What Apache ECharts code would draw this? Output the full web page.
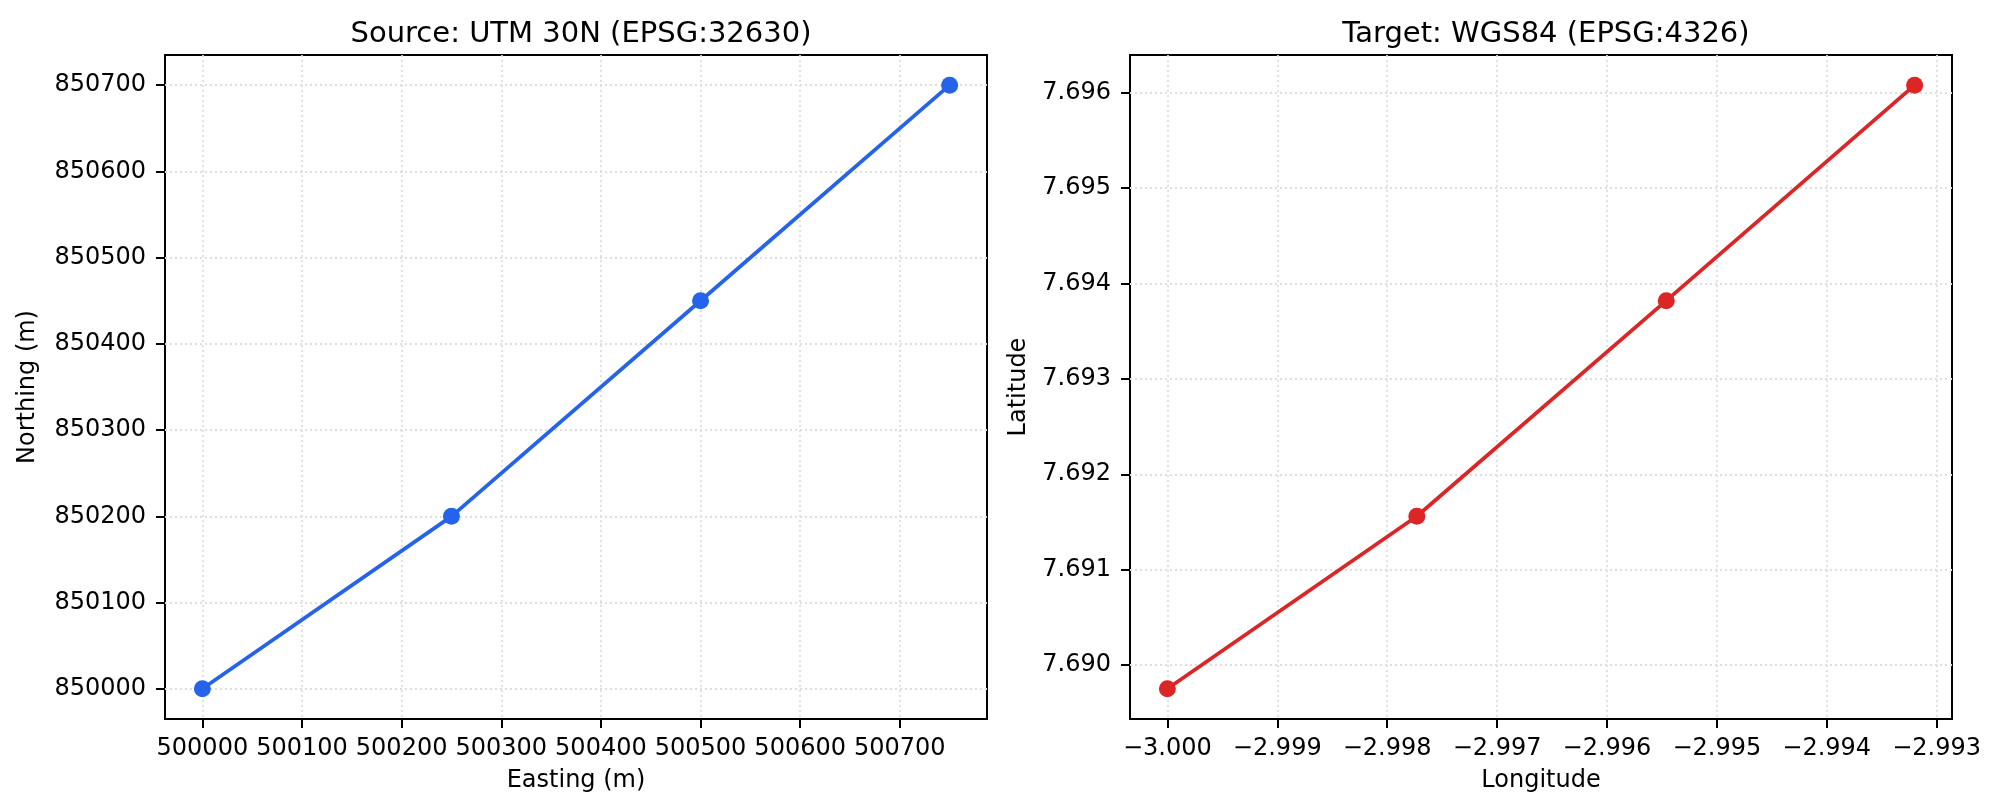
<!DOCTYPE html>
<html>
<head>
<meta charset="utf-8">
<script src="https://cdn.jsdelivr.net/npm/echarts@6/dist/echarts.min.js"></script>
<style>
html,body{margin:0;padding:0;background:#fff;}
#J_Main{width:2000px;height:812px;}
</style>
</head>
<body>
<div id="J_Main"></div>
<script>
// source points, UTM 30N
var easting=[500000,500250,500500,500750];
var northing=[850000,850200,850450,850700];
// transformed points, WGS84
var longitude=[-3.000,-2.99773,-2.99546,-2.99320];
var latitude=[7.68975,7.69156,7.69382,7.69608];

var eastTicks=[500000,500100,500200,500300,500400,500500,500600,500700];
var northTicks=[850000,850100,850200,850300,850400,850500,850600,850700];
var lonTicks=[-3.000,-2.999,-2.998,-2.997,-2.996,-2.995,-2.994,-2.993];
var latTicks=[7.690,7.691,7.692,7.693,7.694,7.695,7.696];

var FONT="DejaVu Sans";

function pairs(xs,ys){
    return xs.map(function(x,i){return [x,ys[i]]});
}
// matplotlib style 5% margins
function padMin(v){return v.min-0.05*(v.max-v.min)}
function padMax(v){return v.max+0.05*(v.max-v.min)}

function axis(gridIndex,name,ticks,fmt,gap,labelMargin){
    return {
        type:'value',
        gridIndex:gridIndex,
        min:padMin,
        max:padMax,
        name:name,
        nameLocation:'middle',
        nameGap:gap,
        nameTextStyle:{color:'#000',fontSize:24,fontFamily:FONT},
        axisLine:{show:false},
        axisTick:{show:true,inside:false,length:9,customValues:ticks,lineStyle:{color:'#000',width:2}},
        axisLabel:{show:true,margin:labelMargin,customValues:ticks,formatter:fmt,color:'#000',fontSize:24,fontFamily:FONT},
        splitLine:{show:true,lineStyle:{color:'#dedede',width:1.8,type:[2,3]}},
        scale:true
    };
}
function intFmt(v){return String(Math.round(v))}
function dec3(v){return v.toFixed(3).replace('-','\u2212')}

var myChart=echarts.init(document.getElementById('J_Main'),null,{renderer:'canvas'});
var option={
    animation:false,
    backgroundColor:'#fff',
    title:[
        {text:'Source: UTM 30N (EPSG:32630)',left:576,top:15,textAlign:'center',textStyle:{color:'#000',fontSize:29,fontWeight:'normal',fontFamily:FONT}},
        {text:'Target: WGS84 (EPSG:4326)',left:1541,top:15,textAlign:'center',textStyle:{color:'#000',fontSize:29,fontWeight:'normal',fontFamily:FONT}}
    ],
    grid:[
        {left:165,top:55,width:822,height:664,show:true,borderColor:'#000',borderWidth:2,backgroundColor:'transparent'},
        {left:1130,top:55,width:822,height:664,show:true,borderColor:'#000',borderWidth:2,backgroundColor:'transparent'}
    ],
    xAxis:[
        axis(0,'Easting (m)',eastTicks,intFmt,50,18),
        axis(1,'Longitude',lonTicks,dec3,50,18)
    ],
    yAxis:[
        axis(0,'Northing (m)',northTicks,intFmt,125,19),
        axis(1,'Latitude',latTicks,dec3,99,19)
    ],
    series:[
        {
            type:'line',
            xAxisIndex:0,
            yAxisIndex:0,
            data:pairs(easting,northing),
            symbol:'circle',
            symbolSize:17,
            showSymbol:true,
            itemStyle:{color:'#2563eb'},
            lineStyle:{color:'#2563eb',width:3.75}
        },
        {
            type:'line',
            xAxisIndex:1,
            yAxisIndex:1,
            data:pairs(longitude,latitude),
            symbol:'circle',
            symbolSize:17,
            showSymbol:true,
            itemStyle:{color:'#dc2626'},
            lineStyle:{color:'#dc2626',width:3.75}
        }
    ]
};
myChart.setOption(option);
</script>
</body>
</html>
